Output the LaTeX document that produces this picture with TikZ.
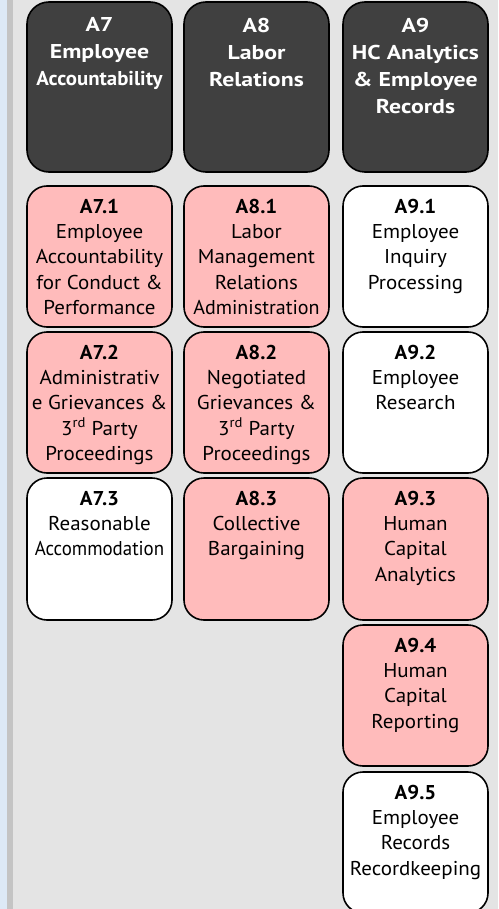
\documentclass[tikz,border=0pt]{standalone}
\usepackage{fontspec}
\setmainfont{PT Sans}[FakeStretch=1.05]
\newfontfamily\hfont{PT Sans}[FakeStretch=1.19]
\usepackage{graphicx}
\definecolor{bgA}{HTML}{E4E4E4}
\definecolor{stripB}{HTML}{DDE9F6}
\definecolor{barG}{HTML}{C4C4C4}
\definecolor{hdr}{HTML}{404040}
\definecolor{pinkF}{HTML}{FFBBBB}
\newcommand\sq[2]{\scalebox{#1}[1]{#2}}
\tikzset{
  cell/.style={draw=black, line width=1.6pt, rounded corners=20pt, minimum width=145pt, inner sep=0pt},
  hbox/.style={cell, fill=hdr, minimum height=170pt, rounded corners=22pt},
  pbox/.style={cell, fill=pinkF, minimum height=141pt},
  wbox/.style={cell, fill=white, minimum height=141pt},
  ctext/.style={anchor=north, align=center, inner sep=0pt, font=\fontsize{20}{25.4}\selectfont, text=black},
  htext/.style={anchor=north, align=center, inner sep=0pt, font=\hfont\fontsize{20}{27}\selectfont\bfseries, text=white},
}
\begin{document}
\begin{tikzpicture}[x=1pt,y=-1pt]
\useasboundingbox (0,0) rectangle (498,909);
\clip (0,0) rectangle (498,909);
\fill[bgA] (0,0) rectangle (498,909);
\fill[stripB] (0,0) rectangle (7,909);
\fill[barG] (7,0) rectangle (13,909);
% headers
\node[hbox] (a7) at (99.5,87) {};
\node[hbox] (a8) at (256.5,87) {};
\node[hbox] (a9) at (415.5,87) {};
\node[htext] (a7t) at ([yshift=-16.5pt]a7.north) {A7\\Employee\\\sq{0.875}{Accountability}};
\node[htext] (a8t) at ([yshift=-16.5pt]a8.north) {A8\\Labor\\Relations};
\node[htext] (a9t) at ([yshift=-16.5pt]a9.north) {A9\\HC Analytics\\\& Employee\\Records};
% row 1
\node[pbox] (a71) at (99.5,256.5) {};
\node[pbox] (a81) at (256.5,256.5) {};
\node[wbox] (a91) at (415.5,256.5) {};
% row 2
\node[pbox] (a72) at (99.5,402.5) {};
\node[pbox] (a82) at (256.5,402.5) {};
\node[wbox] (a92) at (415.5,402.5) {};
% row 3
\node[wbox, minimum height=142pt] (a73) at (99.5,549) {};
\node[pbox, minimum height=142pt] (a83) at (256.5,549) {};
\node[pbox, minimum height=142pt] (a93) at (415.5,549) {};
% row 4,5
\node[pbox] (a94) at (415.5,695.5) {};
\node[wbox] (a95) at (415.5,842.5) {};
% texts
\node[ctext] (a71t) at ([yshift=-13.5pt]a71.north) {\textbf{A7.1}\\Employee\\Accountability\\for Conduct \&\\Performance};
\node[ctext] (a81t) at ([yshift=-13.5pt]a81.north) {\textbf{A8.1}\\Labor\\Management\\Relations\\\sq{0.955}{Administration}};
\node[ctext] (a91t) at ([yshift=-13.5pt]a91.north) {\textbf{A9.1}\\Employee\\Inquiry\\Processing};
\node[ctext] (a72t) at ([yshift=-13.5pt]a72.north) {\textbf{A7.2}\\Administrativ\\e Grievances \&\\3\textsuperscript{rd} Party\\Proceedings};
\node[ctext] (a82t) at ([yshift=-13.5pt]a82.north) {\textbf{A8.2}\\Negotiated\\Grievances \&\\3\textsuperscript{rd} Party\\Proceedings};
\node[ctext] (a92t) at ([yshift=-13.5pt]a92.north) {\textbf{A9.2}\\Employee\\Research};
\node[ctext] (a73t) at ([yshift=-13.5pt]a73.north) {\textbf{A7.3}\\Reasonable\\\sq{0.9}{Accommodation}};
\node[ctext] (a83t) at ([yshift=-13.5pt]a83.north) {\textbf{A8.3}\\Collective\\Bargaining};
\node[ctext] (a93t) at ([yshift=-13.5pt]a93.north) {\textbf{A9.3}\\Human\\Capital\\Analytics};
\node[ctext] (a94t) at ([yshift=-13.5pt]a94.north) {\textbf{A9.4}\\Human\\Capital\\Reporting};
\node[ctext] (a95t) at ([yshift=-13.5pt]a95.north) {\textbf{A9.5}\\Employee\\Records\\Recordkeeping};
\end{tikzpicture}
\end{document}
